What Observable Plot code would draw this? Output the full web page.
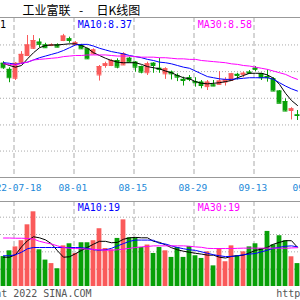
<!DOCTYPE html>
<html><head><meta charset="utf-8">
<script src="https://cdn.jsdelivr.net/npm/d3@7"></script>
<script src="https://cdn.jsdelivr.net/npm/@observablehq/plot@0.6"></script>
<style>
body{margin:0;background:#fff;}
#wrap{position:relative;width:300px;height:300px;overflow:hidden;background:#fff;}
.t{position:absolute;top:4px;font-family:"Noto Sans CJK SC";font-size:12px;line-height:12px;white-space:pre;color:#000;}
#price{position:absolute;left:0;top:17px;}
#vol{position:absolute;left:0;top:201px;}
</style></head><body>
<div id="wrap">
 <span class="t" style="left:22.5px">工业富联</span>
 <span class="t" style="left:79px">-</span>
 <span class="t" style="left:96.5px">日K线图</span>
 <div id="price"></div><div id="vol"></div>
</div>
<script>
// ---- data ----
const tickIndex  = [2, 12, 22, 32, 42, 51];
const tickLabels = ["2022-07-18", "08-01", "08-15", "08-29", "09-13", "09-26"];

const open  = [8.87,8.76,8.60,8.87,9.01,9.14,9.25,9.20,9.19,9.20,9.28,9.31,9.21,9.19,9.13,9.04,8.66,8.83,8.83,8.92,8.84,8.96,8.89,8.81,8.70,8.87,8.78,8.68,8.71,8.65,8.58,8.61,8.54,8.53,8.45,8.48,8.49,8.53,8.56,8.67,8.67,8.71,8.78,8.68,8.63,8.59,8.37,8.18,8.02,7.94];
const close = [8.79,8.61,8.87,9.03,9.20,9.28,9.21,9.15,9.20,9.16,9.36,9.28,9.24,9.13,8.95,9.11,8.81,8.86,8.92,8.80,9.04,8.89,8.80,8.71,8.86,8.83,8.76,8.77,8.68,8.62,8.56,8.58,8.52,8.47,8.53,8.46,8.55,8.57,8.68,8.65,8.69,8.69,8.76,8.61,8.61,8.37,8.15,8.01,8.05,7.93];
const high  = [8.90,8.79,8.88,9.08,9.37,9.37,9.31,9.23,9.22,9.22,9.39,9.34,9.26,9.21,9.14,9.13,8.83,8.89,8.94,8.95,9.06,8.98,8.90,8.82,8.89,8.88,8.96,8.79,8.73,8.68,8.62,8.65,8.61,8.56,8.56,8.56,8.72,8.61,8.69,8.69,8.71,8.74,8.81,8.69,8.75,8.61,8.38,8.23,8.07,8.02];
const low   = [8.76,8.52,8.56,8.85,8.99,9.12,9.15,9.14,9.17,9.15,9.26,9.23,9.19,9.12,8.94,9.02,8.55,8.78,8.81,8.77,8.83,8.88,8.71,8.68,8.65,8.69,8.69,8.58,8.57,8.54,8.46,8.54,8.44,8.41,8.38,8.45,8.48,8.46,8.55,8.57,8.61,8.67,8.72,8.56,8.53,8.36,8.15,8.00,7.85,7.84];

const ma5  = [8.87,8.83,8.80,8.83,8.95,9.06,9.15,9.19,9.20,9.20,9.21,9.22,9.22,9.19,9.14,9.06,9.01,8.96,8.92,8.89,8.88,8.88,8.88,8.85,8.81,8.79,8.77,8.73,8.70,8.65,8.61,8.59,8.54,8.51,8.50,8.51,8.52,8.54,8.56,8.61,8.65,8.69,8.69,8.69,8.66,8.60,8.49,8.33,8.20,8.11];
const ma10 = [8.88,8.87,8.85,8.87,8.89,8.93,8.97,9.00,9.03,9.06,9.10,9.15,9.20,9.21,9.21,9.18,9.14,9.11,9.08,9.06,9.04,9.01,8.99,8.97,8.94,8.92,8.89,8.88,8.86,8.83,8.80,8.78,8.73,8.68,8.63,8.61,8.59,8.58,8.58,8.59,8.60,8.61,8.61,8.61,8.61,8.58,8.52,8.46,8.41,8.37];
const ma30 = [8.86,8.85,8.84,8.87,8.89,8.93,8.94,8.95,8.96,8.97,8.99,9.00,9.01,9.01,9.02,9.02,9.02,9.02,9.01,9.00,9.00,9.00,8.99,8.98,8.98,8.98,8.97,8.97,8.96,8.95,8.95,8.94,8.94,8.92,8.91,8.90,8.89,8.88,8.86,8.85,8.83,8.82,8.80,8.78,8.76,8.73,8.70,8.67,8.62,8.58];

const volume  = [14.5,17.3,19.2,22.2,29.9,36.2,17.8,12.8,11.1,8.6,19.7,20.7,16.0,21.2,21.2,22.2,28.0,18.4,17.8,23.3,32.3,23.6,23.6,18.9,20.1,16.0,18.9,17.3,14.1,18.9,14.1,19.4,14.9,13.6,16.8,10.0,18.4,12.0,19.7,14.9,16.8,19.2,20.7,18.4,26.7,20.2,24.6,22.2,14.4,11.1];
const volMa5  = [14.2,14.2,15.4,19.2,22.2,24.1,23.6,22.6,20.7,17.3,14.2,14.4,15.9,17.5,19.0,20.5,21.9,21.9,21.2,21.4,22.9,23.6,23.8,23.6,23.6,21.9,21.4,20.2,18.8,17.8,17.1,16.6,16.1,15.7,15.2,15.2,14.2,13.8,14.6,14.9,15.2,16.3,17.5,18.1,19.0,20.5,21.4,22.2,22.2,19.0];
const volMa10 = [14.9,14.9,15.4,16.6,18.3,18.9,18.9,18.9,18.9,18.9,18.9,18.9,18.9,18.8,18.5,17.8,17.6,17.8,18.5,19.7,20.8,21.9,22.5,22.5,22.5,22.4,20.9,20.6,19.7,18.9,18.3,17.8,17.5,16.8,16.1,15.4,14.9,14.5,14.6,14.9,15.4,15.7,16.0,16.8,17.6,18.5,19.0,19.5,19.7,19.2];
const volMa30 = [23.5,23.5,23.4,23.4,23.3,23.0,21.9,21.2,20.6,19.7,18.9,18.5,18.4,18.3,18.1,18.0,17.8,17.6,17.6,17.8,18.1,18.5,18.9,19.2,19.4,19.7,19.7,19.7,19.7,19.7,19.7,19.5,19.2,19.0,18.5,18.4,18.4,18.4,18.4,18.5,18.6,18.6,18.6,18.6,18.6,18.6,18.6,18.5,18.7,18.8];

const priceGrid = [9.20, 8.72, 8.24, 7.76, 7.29];
const volGrid   = [8.4, 16.8, 25.2, 33.6];
const maNames   = ["MA5", "MA10", "MA30"];

// ---- build ----
const RED = "#fa5a5a", GREEN = "#08a008", GRID = "#aaaaaa", FRAME = "#999999";
const MACOL = ["#000000", "#0000ff", "#ff00ff"];
const MONO = "DejaVu Sans Mono";
const n = open.length;
const candles = open.map((o, i) => ({i, o, c: close[i], h: high[i], l: low[i], v: volume[i], up: close[i] >= o}));
const col = d => d.up ? RED : GREEN;
const xDomain = [-0.5, n - 0.5];
const priceDomain = [6.814, 9.694];
const volDomain = [0, 41.2];
const gridX = tickIndex.map(d => d - 0.25);

function maLines(series, width) {
  return series.map((s, k) => Plot.line(s, {x: (d, i) => i, y: d => d, stroke: MACOL[k], strokeWidth: width}));
}
function maLabels(series, fmt, dy) {
  return series.map((s, k) => Plot.text([`${maNames[k]}:${fmt(s[s.length - 1])}`], {
    text: d => d, frameAnchor: "top-left", dx: -42.7 + 120 * k, dy, lineAnchor: "bottom",
    textAnchor: "start", fill: MACOL[k], fontFamily: MONO, fontSize: 10
  }));
}

const price = Plot.plot({
  width: 300, height: 184,
  marginTop: 0, marginBottom: 24, marginLeft: 0, marginRight: 0,
  x: {domain: xDomain, axis: null},
  y: {domain: priceDomain, axis: null},
  style: {background: "transparent"},
  marks: [
    Plot.ruleY(priceGrid, {stroke: GRID, strokeDasharray: "1,2"}),
    Plot.ruleX(gridX, {stroke: GRID, strokeDasharray: "5,3"}),
    Plot.ruleY([priceDomain[1], priceDomain[0]], {stroke: FRAME}),
    Plot.ruleX(candles, {x: "i", y1: "l", y2: "h", stroke: col}),
    Plot.rect(candles, {x1: d => d.i - 0.4, x2: d => d.i + 0.4, y1: d => Math.min(d.o, d.c), y2: d => Math.max(d.o, d.c), fill: col}),
    Plot.ruleY(candles, {x1: d => d.i - 0.4, x2: d => d.i + 0.4, y: "o", stroke: col}),
    Plot.ruleY(candles, {x1: d => d.i - 0.4, x2: d => d.i + 0.4, y: "c", stroke: col}),
    ...maLines([ma5, ma10, ma30], 1),
    ...maLabels([ma5, ma10, ma30], v => v.toFixed(2), 10),
    Plot.text(tickIndex, {x: d => d - 0.45, text: (d, i) => tickLabels[i], frameAnchor: "bottom", dy: 13,
      lineAnchor: "bottom", fill: "#2188d8", fontFamily: MONO, fontSize: 9.5})
  ]
});
document.getElementById("price").appendChild(price);

const vol = Plot.plot({
  width: 300, height: 99,
  marginTop: 0, marginBottom: 14, marginLeft: 0, marginRight: 0,
  x: {domain: xDomain, axis: null},
  y: {domain: volDomain, axis: null},
  style: {background: "transparent"},
  marks: [
    Plot.ruleY(volGrid, {stroke: GRID, strokeDasharray: "1,2"}),
    Plot.ruleX(gridX, {stroke: GRID, strokeDasharray: "5,3"}),
    Plot.ruleY([volDomain[1]], {stroke: FRAME}),
    Plot.rect(candles, {x1: d => d.i - 0.4, x2: d => d.i + 0.4, y1: 0, y2: "v", fill: col}),
    ...maLines([volMa5, volMa10, volMa30], 1),
    ...maLabels([volMa5, volMa10, volMa30], v => v.toFixed(0), 9),
    Plot.text(["Copyright 2022 SINA.COM"], {text: d => d, frameAnchor: "bottom-left", dx: -47.5, dy: 10,
      lineAnchor: "bottom", textAnchor: "start", fill: "#555", fontFamily: MONO, fontSize: 10}),
    Plot.text(["http://finance.sina.com.cn"], {text: d => d, frameAnchor: "bottom-left", dx: 275.8, dy: 10,
      lineAnchor: "bottom", textAnchor: "start", fill: "#555", fontFamily: MONO, fontSize: 10})
  ]
});
document.getElementById("vol").appendChild(vol);
</script>
</body></html>
